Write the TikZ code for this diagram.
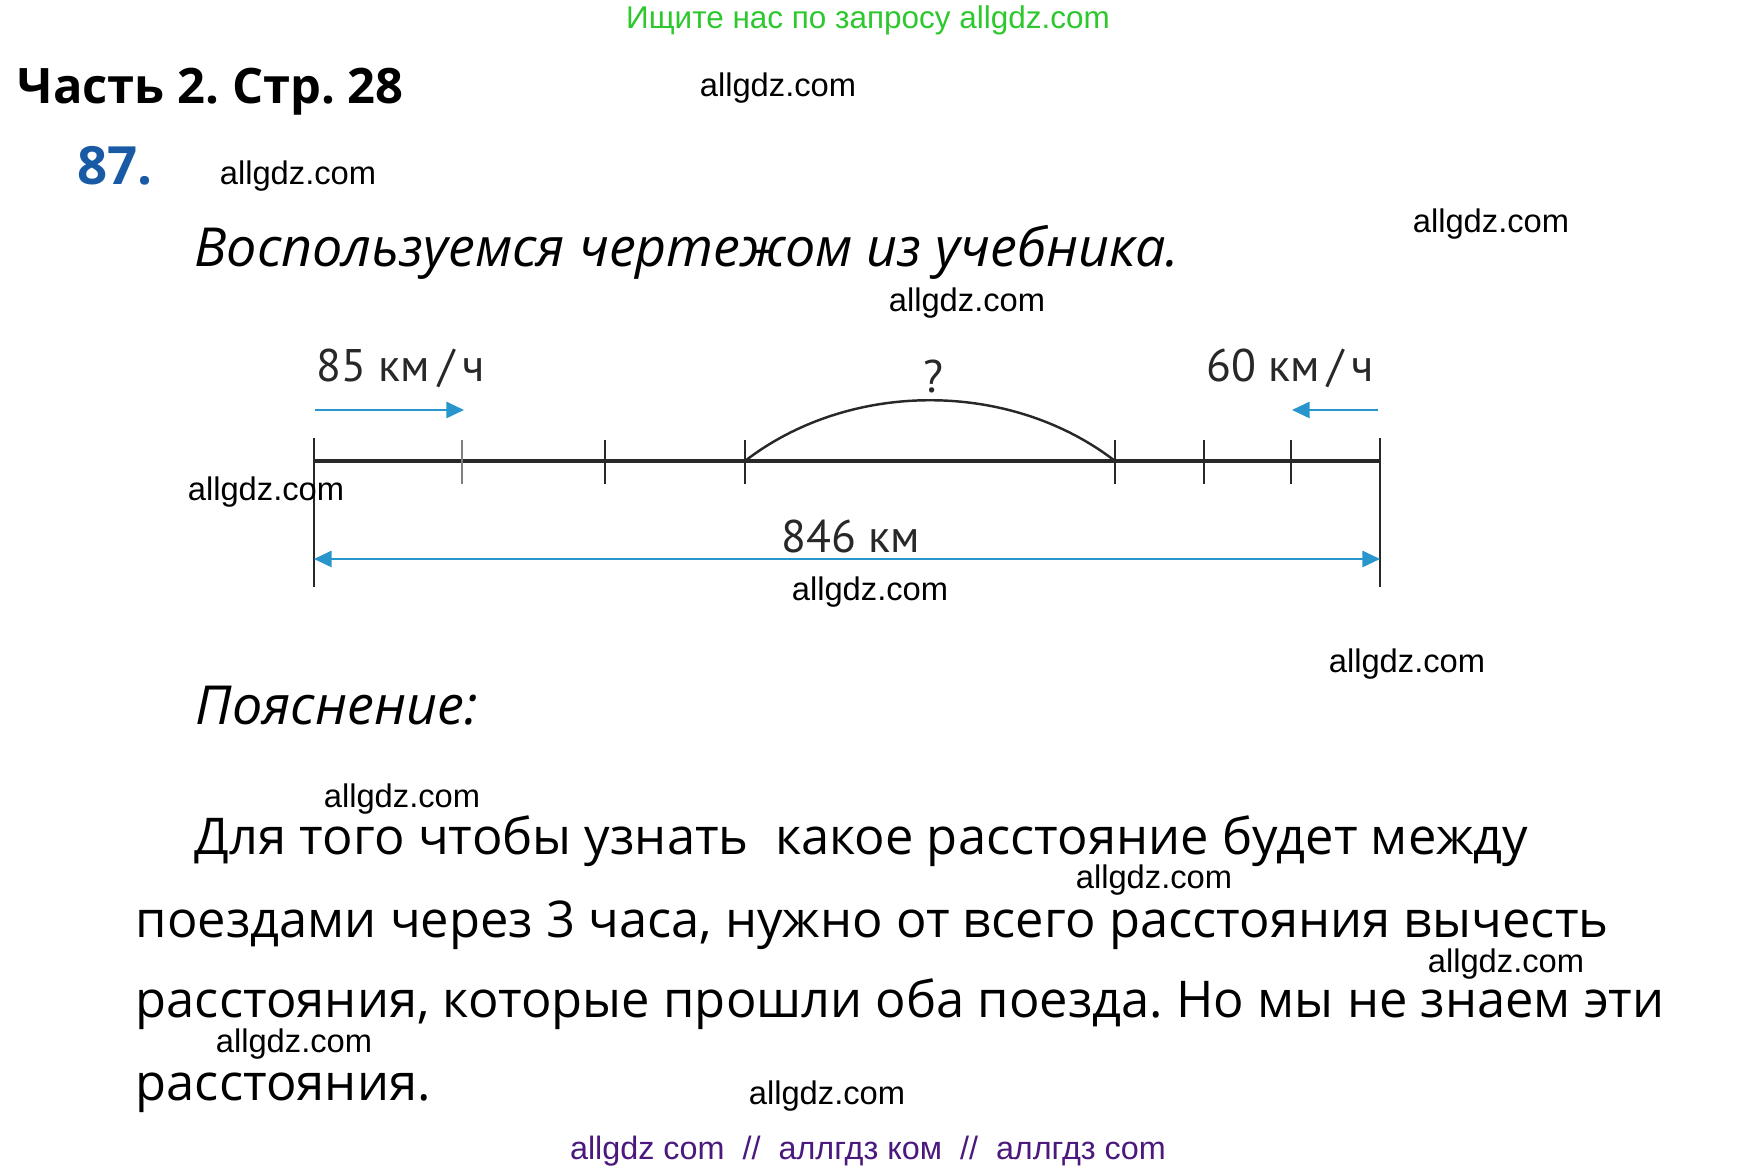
\documentclass[tikz,border=0pt]{standalone}
\usepackage{fontspec}
\setmainfont{Open Sans}
\newfontfamily\siteFont{Liberation Sans}
\newfontfamily\labelFont{PT Sans}
\usetikzlibrary{arrows.meta}
\usetikzlibrary{positioning}
\frenchspacing

\definecolor{hintGreen}{RGB}{45,200,45}
\definecolor{numberBlue}{RGB}{25,90,165}
\definecolor{speedBlue}{RGB}{40,150,205}
\definecolor{lineGray}{RGB}{40,40,40}
\definecolor{footPurple}{RGB}{75,25,125}

\begin{document}
\begin{tikzpicture}[x = 0.01cm, y = -0.01cm, > = {Triangle[length = 5pt, width = 4.6pt]}]
\tikzset{
  watermark/.style = {font = \siteFont\fontsize{9.3}{11}\selectfont, inner sep = 0pt},
  heading/.style = {font = \bfseries\fontsize{13.9}{17}\selectfont, anchor = base west, inner sep = 0pt},
  lead/.style = {font = \itshape\fontsize{15.3}{18}\selectfont, anchor = base west, inner sep = 0pt},
  body/.style = {font = \fontsize{14.4}{17}\selectfont, anchor = base west, inner sep = 0pt},
  speed/.style = {font = \labelFont\fontsize{13}{15}\selectfont, text = lineGray, inner sep = 0pt},
  road/.style = {draw = lineGray, line width = 0.9pt},
  tickMark/.style = {draw = lineGray, line width = 0.6pt},
  motion/.style = {draw = speedBlue, line width = 0.6pt, ->},
}
\useasboundingbox (0,0) rectangle (1738,1171);

% page header
\node [watermark, font = \siteFont\fontsize{8.95}{11}\selectfont, text = hintGreen, anchor = base] (siteHint) at (868,29) {Ищите нас по запросу allgdz.com};
\node [heading] (pageTitle) at (17,104) {Часть 2. Стр. 28};
\node [heading, font = \bfseries\fontsize{15}{17}\selectfont, text = numberBlue] (taskNumber) at (77,185) {87.};
\node [lead] (introLine) at (194,267) {Воспользуемся чертежом из учебника.};

% the drawing
\coordinate (roadStart) at (314,461);
\coordinate (tickB) at (462,461);
\coordinate (tickC) at (605,461);
\coordinate (meetLeft) at (745,461);
\coordinate (meetRight) at (1115,461);
\coordinate (tickF) at (1204,461);
\coordinate (tickG) at (1291,461);
\coordinate (roadEnd) at (1380,461);
\draw [road] (roadStart) -- (roadEnd);
\draw [tickMark] (roadStart) ++(0,-23) -- ++(0,149);
\draw [tickMark, draw = gray] (tickB) ++(0,-21) -- ++(0,44);
\draw [tickMark] (tickC) ++(0,-21) -- ++(0,44);
\draw [tickMark] (meetLeft) ++(0,-21) -- ++(0,44);
\draw [tickMark] (meetRight) ++(0,-21) -- ++(0,44);
\draw [tickMark] (tickF) ++(0,-21) -- ++(0,44);
\draw [tickMark] (tickG) ++(0,-21) -- ++(0,44);
\draw [tickMark] (roadEnd) ++(0,-23) -- ++(0,149);
\draw [road, line width = 0.7pt] (meetLeft) .. controls (850,380) and (1010,380) .. (meetRight);

\coordinate (fastFrom) at (315,410);
\coordinate (fastTo) at (464,410);
\coordinate (slowFrom) at (1378,410);
\coordinate (slowTo) at (1292,410);
\coordinate (spanLeft) at (314,559);
\coordinate (spanRight) at (1380,559);
\draw [motion] (fastFrom) -- (fastTo);
\draw [motion] (slowFrom) -- (slowTo);
\draw [motion, <->] (spanLeft) -- (spanRight);

\node [speed, anchor = base west] (fastSpeed) at (316,382) {85 км\kern2.3pt/\kern2.3pt ч};
\node [speed, anchor = base east] (slowSpeed) at (1375,382) {60 км\kern2.3pt/\kern2.3pt ч};
\node [speed, anchor = base] (gapQuestion) at (933,393) {?};
\node [speed, anchor = base] (totalDistance) at (851,553) {846 км};

% explanation
\node [lead] (noteTitle) at (195,725) {Пояснение:};
\node [body] (bodyLineA) at (194,855) {Для того чтобы узнать\ \ какое расстояние будет между};
\node [body] (bodyLineB) at (135,938) {поездами через 3 часа, нужно от всего расстояния вычесть};
\node [body] (bodyLineC) at (135,1018) {расстояния, которые прошли оба поезда. Но мы не знаем эти};
\node [body] (bodyLineD) at (135,1101) {расстояния.};

% site marks
\node [watermark] (markA) at (778,88) {allgdz.com};
\node [watermark] (markB) at (298,176) {allgdz.com};
\node [watermark] (markC) at (1491,224) {allgdz.com};
\node [watermark] (markD) at (967,303) {allgdz.com};
\node [watermark] (markE) at (266,492) {allgdz.com};
\node [watermark] (markF) at (870,592) {allgdz.com};
\node [watermark] (markG) at (1407,664) {allgdz.com};
\node [watermark] (markH) at (402,799) {allgdz.com};
\node [watermark] (markI) at (1154,880) {allgdz.com};
\node [watermark] (markJ) at (1506,964) {allgdz.com};
\node [watermark] (markK) at (294,1044) {allgdz.com};
\node [watermark] (markL) at (827,1096) {allgdz.com};
\node [watermark, font = \siteFont\fontsize{9.2}{12}\selectfont, text = footPurple, anchor = base] (siteFooter) at (868,1160) {allgdz com\ \ //\ \ аллгдз ком\ \ //\ \ аллгдз com};
\end{tikzpicture}
\end{document}
